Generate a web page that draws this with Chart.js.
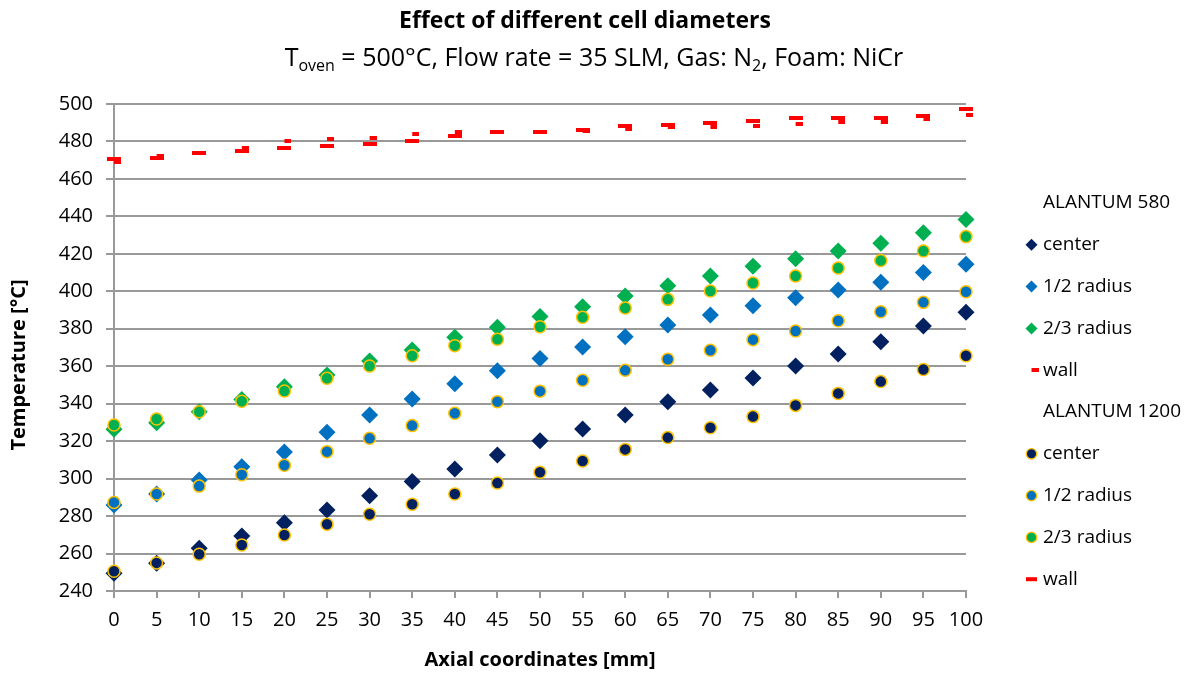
<!DOCTYPE html>
<html>
<head>
<meta charset="utf-8">
<title>Effect of different cell diameters</title>
<script src="https://cdn.jsdelivr.net/npm/chart.js@4/dist/chart.umd.min.js"></script>
<style>
  html, body { margin: 0; padding: 0; background: #ffffff; }
  #wrap { width: 1190px; height: 673px; }
</style>
</head>
<body>
<div id="wrap"><canvas id="chart" width="1190" height="673"></canvas></div>
<script>
// Axial positions [mm]
const axial = [0, 5, 10, 15, 20, 25, 30, 35, 40, 45, 50, 55, 60, 65, 70, 75, 80, 85, 90, 95, 100];

// ALANTUM 580 temperatures [°C]
const center580 = [249.5, 254.8, 262.8, 269.4, 276.5, 283.2, 290.9, 298.4, 305.1, 312.6, 320.2, 326.5, 334.0, 341.0, 347.3, 353.7, 360.1, 366.5, 373.1, 381.5, 388.8];
const half580 = [285.9, 291.8, 299.3, 306.4, 314.2, 324.7, 334.0, 342.5, 350.7, 357.6, 364.1, 370.3, 375.8, 382.0, 387.4, 392.3, 396.6, 400.7, 404.9, 410.1, 414.5];
const twoThirds580 = [326.3, 329.8, 335.7, 342.3, 349.1, 355.3, 362.8, 368.7, 375.5, 380.8, 386.5, 391.8, 397.5, 403.0, 408.2, 413.4, 417.4, 421.5, 425.6, 431.3, 438.4];
const wall580 = [469.2, 472.4, 474.0, 476.7, 480.2, 481.1, 481.8, 483.8, 484.9, 485.1, 485.2, 485.8, 486.7, 487.9, 487.7, 488.4, 489.3, 490.2, 490.6, 491.8, 494.1];

// ALANTUM 1200 temperatures [°C]
const center1200 = [250.5, 255.0, 259.6, 264.6, 269.9, 275.6, 281.0, 286.3, 291.8, 297.7, 303.4, 309.4, 315.6, 321.9, 327.2, 333.1, 339.1, 345.5, 351.8, 358.3, 365.6];
const half1200 = [287.3, 291.8, 296.0, 302.1, 307.1, 314.4, 321.5, 328.3, 334.9, 341.1, 346.7, 352.5, 357.8, 363.7, 368.5, 374.2, 378.8, 384.3, 389.1, 394.1, 399.8];
const twoThirds1200 = [328.6, 331.8, 335.7, 341.3, 346.8, 353.6, 360.1, 365.6, 371.0, 374.4, 381.1, 386.1, 391.1, 395.7, 400.2, 404.4, 408.2, 412.4, 416.4, 421.5, 429.2];
const wall1200 = [470.5, 471.3, 474.0, 475.1, 476.7, 477.4, 478.5, 480.1, 482.9, 485.1, 485.2, 486.2, 488.4, 488.9, 489.7, 490.9, 492.4, 492.5, 492.7, 493.8, 497.3];

// Axis ranges and tick steps
const yMin = 240, yMax = 500, yStep = 20;
const xMin = 0, xMax = 100, xStep = 5;

// Legend groups
const groupNames = ['ALANTUM 580', 'ALANTUM 1200'];

const FONT = '"Open Sans", Lato, sans-serif';
const NAVY = '#002060', BLUE = '#0070C0', GREEN = '#00B050', RED = '#FF0000', GOLD = '#FFC000';

// Dash markers for the wall series
function dashImage(w, h, fromX, color) {
  const c = document.createElement('canvas');
  c.width = w; c.height = h;
  const g = c.getContext('2d');
  g.fillStyle = color;
  g.fillRect(fromX, 0, w - fromX, h);
  return c;
}
const shortDash = dashImage(14, 4, 7, RED);   // ALANTUM 580 wall
const longDash = dashImage(14, 4, 0, RED);    // ALANTUM 1200 wall

function pts(ys) { return axial.map((x, i) => ({ x: x, y: ys[i] })); }

function diamondSet(label, ys, color) {
  return { label, group: 0, data: pts(ys), pointStyle: 'rectRot', pointRadius: 8.5, pointHoverRadius: 8.5,
    backgroundColor: color, borderColor: color, pointBorderWidth: 0, borderWidth: 0, showLine: false, clip: false, order: 2 };
}
function circleSet(label, ys, color) {
  return { label, group: 1, data: pts(ys), pointStyle: 'circle', pointRadius: 6, pointHoverRadius: 6,
    backgroundColor: color, borderColor: GOLD, pointBorderWidth: 1.5, borderWidth: 1.5, showLine: false, clip: false, order: 1 };
}
function wallSet(label, ys, img, group) {
  return { label, group, data: pts(ys), pointStyle: img, pointRadius: 7, pointHoverRadius: 7,
    backgroundColor: RED, borderColor: RED, showLine: false, clip: false, order: group === 0 ? 2 : 1 };
}

const datasets = [
  diamondSet('center', center580, NAVY),
  diamondSet('1/2 radius', half580, BLUE),
  diamondSet('2/3 radius', twoThirds580, GREEN),
  wallSet('wall', wall580, shortDash, 0),
  circleSet('center', center1200, NAVY),
  circleSet('1/2 radius', half1200, BLUE),
  circleSet('2/3 radius', twoThirds1200, GREEN),
  wallSet('wall', wall1200, longDash, 1)
];

// Titles, axis titles and the grouped legend
const decorations = {
  id: 'decorations',
  afterDraw(chart) {
    const ctx = chart.ctx;
    const area = chart.chartArea;
    ctx.save();
    ctx.fillStyle = '#000000';
    ctx.textBaseline = 'alphabetic';

    // Main title
    ctx.font = 'bold 23px ' + FONT;
    ctx.textAlign = 'center';
    ctx.fillText('Effect of different cell diameters', 585, 28);

    // Subtitle with subscripts
    const parts = [
      ['T', 25, 0], ['oven', 16, 5], [' = 500°C, Flow rate = 35 SLM, Gas: N', 25, 0], ['2', 16, 5], [', Foam: NiCr', 25, 0]
    ];
    ctx.textAlign = 'left';
    let total = 0;
    parts.forEach(p => { ctx.font = p[1] + 'px ' + FONT; total += ctx.measureText(p[0]).width; });
    let x = 594 - total / 2;
    parts.forEach(p => {
      ctx.font = p[1] + 'px ' + FONT;
      ctx.fillText(p[0], x, 66 + p[2]);
      x += ctx.measureText(p[0]).width;
    });

    // Axis titles
    ctx.font = 'bold 20px ' + FONT;
    ctx.textAlign = 'center';
    ctx.textBaseline = 'middle';
    ctx.fillText('Axial coordinates [mm]', (area.left + area.right) / 2, 660);
    ctx.save();
    ctx.translate(19, 365);
    ctx.rotate(-Math.PI / 2);
    ctx.fillText('Temperature [°C]', 0, 0);
    ctx.restore();

    // Legend
    const markX = 1031.5, textX = 1043, top = 203, step = 41.8;
    ctx.font = '19px ' + FONT;
    ctx.textAlign = 'left';
    ctx.textBaseline = 'middle';
    let row = 0;
    groupNames.forEach((gName, g) => {
      ctx.fillStyle = '#000000';
      ctx.fillText(gName, textX, top + step * row);
      row++;
      chart.data.datasets.forEach(ds => {
        if (ds.group !== g) return;
        const y = top + step * row;
        ctx.save();
        if (ds.pointStyle === 'rectRot') {
          const r = 6;
          ctx.fillStyle = ds.backgroundColor;
          ctx.beginPath();
          ctx.moveTo(markX - r, y); ctx.lineTo(markX, y - r); ctx.lineTo(markX + r, y); ctx.lineTo(markX, y + r);
          ctx.closePath(); ctx.fill();
        } else if (ds.pointStyle === 'circle') {
          ctx.fillStyle = ds.backgroundColor;
          ctx.strokeStyle = GOLD;
          ctx.lineWidth = 1.3;
          ctx.beginPath(); ctx.arc(markX, y, 5.2, 0, Math.PI * 2); ctx.fill(); ctx.stroke();
        } else if (ds.pointStyle === shortDash) {
          ctx.drawImage(shortDash, markX - 7, y - 2);
        } else {
          ctx.fillStyle = RED;
          ctx.fillRect(markX - 5.5, y - 2, 11, 4);
        }
        ctx.restore();
        ctx.fillStyle = '#000000';
        ctx.fillText(ds.label, textX, y);
        row++;
      });
    });
    ctx.restore();
  }
};

new Chart(document.getElementById('chart'), {
  type: 'scatter',
  data: { datasets },
  plugins: [decorations],
  options: {
    responsive: false,
    animation: false,
    devicePixelRatio: 1,
    layout: { padding: { top: 104, right: 224, bottom: 0, left: 0 } },
    plugins: { legend: { display: false }, tooltip: { enabled: false }, title: { display: false } },
    scales: {
      x: {
        type: 'linear', min: xMin, max: xMax,
        afterFit(scale) { scale.height = 82; },
        grid: { display: true, drawOnChartArea: false, drawTicks: true, tickLength: 7, color: '#999999', lineWidth: 2 },
        border: { display: true, color: '#999999', width: 2 },
        ticks: { stepSize: xStep, autoSkip: false, maxRotation: 0, padding: 10, color: '#000000', font: { family: FONT, size: 20 } }
      },
      y: {
        type: 'linear', min: yMin, max: yMax,
        afterFit(scale) { scale.width = 114; },
        grid: { display: true, drawOnChartArea: true, drawTicks: true, tickLength: 8, color: '#999999', lineWidth: 2 },
        border: { display: true, color: '#999999', width: 2 },
        ticks: { stepSize: yStep, padding: 13, color: '#000000', font: { family: FONT, size: 20 } }
      }
    }
  }
});
</script>
</body>
</html>
